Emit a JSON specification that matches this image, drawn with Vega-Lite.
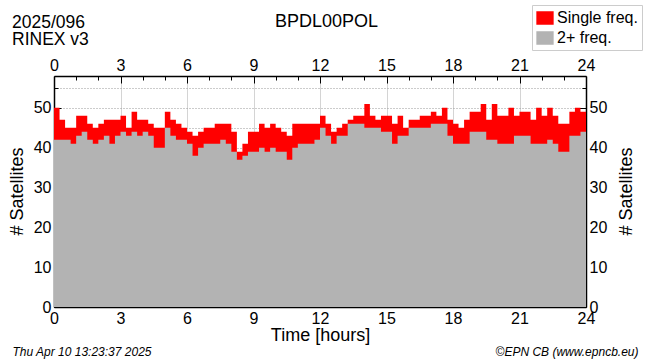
{
  "$schema": "https://vega.github.io/schema/vega-lite/v6.json",
  "width": 532,
  "height": 231,
  "autosize": "none",
  "padding": {"left": 54, "top": 76, "right": 64, "bottom": 55},
  "background": "white",
  "title": {
    "text": ["2025/096", "RINEX v3"],
    "anchor": "start",
    "frame": "group",
    "dx": -42,
    "dy": 48,
    "fontSize": 17.5,
    "fontWeight": "normal",
    "font": "Liberation Sans",
    "lineHeight": 17,
    "color": "black"
  },
  "config": {
    "view": {"stroke": null},
    "font": "Liberation Sans",
    "axis": {
      "domainColor": "black",
      "domainWidth": 1.5,
      "tickColor": "black",
      "labelFont": "Liberation Sans",
      "labelFontSize": 16,
      "labelColor": "black",
      "titleFont": "Liberation Sans",
      "titleFontSize": 18,
      "titleFontWeight": "normal",
      "titleColor": "black"
    }
  },
  "data": {
    "values": [
      {"h": 0.00, "total": 50, "dual": 42}, {"h": 0.25, "total": 47, "dual": 42}, {"h": 0.50, "total": 45, "dual": 42}, {"h": 0.75, "total": 45, "dual": 41},
      {"h": 1.00, "total": 48, "dual": 43}, {"h": 1.25, "total": 48, "dual": 44}, {"h": 1.50, "total": 46, "dual": 42}, {"h": 1.75, "total": 45, "dual": 41},
      {"h": 2.00, "total": 46, "dual": 42}, {"h": 2.25, "total": 47, "dual": 43}, {"h": 2.50, "total": 47, "dual": 41}, {"h": 2.75, "total": 47, "dual": 43},
      {"h": 3.00, "total": 48, "dual": 44}, {"h": 3.25, "total": 45, "dual": 43}, {"h": 3.50, "total": 49, "dual": 44}, {"h": 3.75, "total": 47, "dual": 43},
      {"h": 4.00, "total": 47, "dual": 44}, {"h": 4.25, "total": 46, "dual": 43}, {"h": 4.50, "total": 45, "dual": 40}, {"h": 4.75, "total": 45, "dual": 40},
      {"h": 5.00, "total": 49, "dual": 45}, {"h": 5.25, "total": 47, "dual": 43}, {"h": 5.50, "total": 46, "dual": 42}, {"h": 5.75, "total": 45, "dual": 42},
      {"h": 6.00, "total": 44, "dual": 41}, {"h": 6.25, "total": 43, "dual": 38}, {"h": 6.50, "total": 44, "dual": 40}, {"h": 6.75, "total": 45, "dual": 41},
      {"h": 7.00, "total": 45, "dual": 41}, {"h": 7.25, "total": 46, "dual": 41}, {"h": 7.50, "total": 46, "dual": 42}, {"h": 7.75, "total": 46, "dual": 41},
      {"h": 8.00, "total": 44, "dual": 39}, {"h": 8.25, "total": 39, "dual": 37}, {"h": 8.50, "total": 41, "dual": 38}, {"h": 8.75, "total": 44, "dual": 39},
      {"h": 9.00, "total": 44, "dual": 39}, {"h": 9.25, "total": 46, "dual": 40}, {"h": 9.50, "total": 45, "dual": 39}, {"h": 9.75, "total": 46, "dual": 40},
      {"h": 10.00, "total": 45, "dual": 39}, {"h": 10.25, "total": 44, "dual": 39}, {"h": 10.50, "total": 43, "dual": 37}, {"h": 10.75, "total": 46, "dual": 40},
      {"h": 11.00, "total": 46, "dual": 41}, {"h": 11.25, "total": 46, "dual": 41}, {"h": 11.50, "total": 46, "dual": 41}, {"h": 11.75, "total": 46, "dual": 42},
      {"h": 12.00, "total": 48, "dual": 45}, {"h": 12.25, "total": 46, "dual": 43}, {"h": 12.50, "total": 44, "dual": 41}, {"h": 12.75, "total": 45, "dual": 43},
      {"h": 13.00, "total": 46, "dual": 43}, {"h": 13.25, "total": 47, "dual": 46}, {"h": 13.50, "total": 48, "dual": 46}, {"h": 13.75, "total": 48, "dual": 46},
      {"h": 14.00, "total": 51, "dual": 45}, {"h": 14.25, "total": 48, "dual": 45}, {"h": 14.50, "total": 47, "dual": 45}, {"h": 14.75, "total": 48, "dual": 44},
      {"h": 15.00, "total": 48, "dual": 44}, {"h": 15.25, "total": 46, "dual": 41}, {"h": 15.50, "total": 48, "dual": 43}, {"h": 15.75, "total": 45, "dual": 43},
      {"h": 16.00, "total": 47, "dual": 45}, {"h": 16.25, "total": 47, "dual": 45}, {"h": 16.50, "total": 48, "dual": 45}, {"h": 16.75, "total": 48, "dual": 45},
      {"h": 17.00, "total": 49, "dual": 46}, {"h": 17.25, "total": 48, "dual": 46}, {"h": 17.50, "total": 50, "dual": 46}, {"h": 17.75, "total": 47, "dual": 43},
      {"h": 18.00, "total": 46, "dual": 41}, {"h": 18.25, "total": 45, "dual": 41}, {"h": 18.50, "total": 47, "dual": 41}, {"h": 18.75, "total": 49, "dual": 44},
      {"h": 19.00, "total": 49, "dual": 44}, {"h": 19.25, "total": 51, "dual": 44}, {"h": 19.50, "total": 47, "dual": 42}, {"h": 19.75, "total": 51, "dual": 42},
      {"h": 20.00, "total": 48, "dual": 41}, {"h": 20.25, "total": 48, "dual": 41}, {"h": 20.50, "total": 50, "dual": 41}, {"h": 20.75, "total": 48, "dual": 43},
      {"h": 21.00, "total": 49, "dual": 43}, {"h": 21.25, "total": 49, "dual": 43}, {"h": 21.50, "total": 47, "dual": 41}, {"h": 21.75, "total": 50, "dual": 41},
      {"h": 22.00, "total": 48, "dual": 41}, {"h": 22.25, "total": 50, "dual": 42}, {"h": 22.50, "total": 48, "dual": 41}, {"h": 22.75, "total": 46, "dual": 39},
      {"h": 23.00, "total": 46, "dual": 39}, {"h": 23.25, "total": 49, "dual": 43}, {"h": 23.50, "total": 50, "dual": 43}, {"h": 23.75, "total": 49, "dual": 44},
      {"h": 24.00, "total": 49, "dual": 44}
    ]
  },
  "layer": [
    {
      "mark": {"type": "area", "interpolate": "step-after"},
      "encoding": {
        "x": {
          "field": "h", "type": "quantitative",
          "scale": {"domain": [0, 24], "nice": false, "zero": false},
          "axis": {
            "orient": "bottom",
            "values": [0,1,2,3,4,5,6,7,8,9,10,11,12,13,14,15,16,17,18,19,20,21,22,23,24],
            "labelExpr": "datum.value % 3 === 0 ? datum.label : ''",
            "tickSize": {"condition": {"test": "datum.value % 3 === 0", "value": -7}, "value": -4},
            "labelPadding": 10,
            "labelFlush": false,
            "grid": true,
            "gridColor": "#d4d4d4",
            "gridOpacity": {"condition": {"test": "datum.value % 3 === 0", "value": 1}, "value": 0},
            "title": "Time [hours]",
            "titleY": 33,
            "titleBaseline": "alphabetic"
          }
        },
        "y": {
          "field": "total", "type": "quantitative",
          "scale": {"domain": [0, 58], "nice": false},
          "axis": {
            "orient": "left",
            "values": [0,5,10,15,20,25,30,35,40,45,50,55],
            "labelExpr": "datum.value % 10 === 0 ? datum.label : ''",
            "tickSize": {"condition": {"test": "datum.value % 10 === 0", "value": -7}, "value": -4},
            "labelPadding": 10,
            "labelFlush": false,
            "grid": true,
            "gridColor": "#999999",
            "gridDash": [1, 2],
            "title": "# Satellites",
            "titleX": -37,
            "titleY": 115,
            "titleAngle": 270,
            "titleAlign": "center",
            "titleBaseline": "middle"
          }
        },
        "fill": {
          "datum": "Single freq.",
          "type": "nominal",
          "scale": {"domain": ["Single freq.", "2+ freq."], "range": ["#ff0000", "#b3b3b3"]},
          "legend": {
            "orient": "none",
            "legendX": 478,
            "legendY": -71,
            "title": null,
            "strokeColor": "#cccccc",
            "fillColor": "white",
            "padding": 4,
            "cornerRadius": 0,
            "labelFont": "Liberation Sans",
            "labelFontSize": 16,
            "labelColor": "black",
            "symbolType": "M-1,-0.78H1V0.78H-1Z",
            "symbolSize": 300,
            "symbolStrokeWidth": 0,
            "rowPadding": 3,
            "labelOffset": 3
          }
        }
      }
    },
    {
      "mark": {"type": "area", "interpolate": "step-after"},
      "encoding": {
        "x": {
          "field": "h", "type": "quantitative",
          "axis": {
            "orient": "top",
            "values": [0,1,2,3,4,5,6,7,8,9,10,11,12,13,14,15,16,17,18,19,20,21,22,23,24],
            "labelExpr": "datum.value % 3 === 0 ? datum.label : ''",
            "tickSize": {"condition": {"test": "datum.value % 3 === 0", "value": -7}, "value": -4},
            "labelPadding": 10,
            "labelFlush": false,
            "grid": false,
            "title": "BPDL00POL",
            "titleX": 272,
            "titleY": -50,
            "titleAlign": "center",
            "titleBaseline": "alphabetic"
          }
        },
        "y": {
          "field": "dual", "type": "quantitative",
          "axis": {
            "orient": "right",
            "values": [0,5,10,15,20,25,30,35,40,45,50,55],
            "labelExpr": "datum.value % 10 === 0 ? datum.label : ''",
            "tickSize": {"condition": {"test": "datum.value % 10 === 0", "value": -7}, "value": -4},
            "labelPadding": 10,
            "labelFlush": false,
            "grid": false,
            "title": "# Satellites",
            "titleX": 40,
            "titleY": 115,
            "titleAngle": 270,
            "titleAlign": "center",
            "titleBaseline": "middle"
          }
        },
        "fill": {"datum": "2+ freq.", "type": "nominal"}
      }
    },
    {
      "mark": {"type": "point", "opacity": 0},
      "encoding": {
        "x": {
          "field": "h", "type": "quantitative",
          "axis": {
            "orient": "bottom",
            "domain": false, "ticks": false, "labels": false, "grid": false,
            "title": "Thu Apr 10 13:23:37 2025",
            "titleFontSize": 12,
            "titleFontStyle": "italic",
            "titleX": -42,
            "titleY": 48,
            "titleAlign": "left",
            "titleBaseline": "alphabetic"
          }
        }
      }
    },
    {
      "mark": {"type": "point", "opacity": 0},
      "encoding": {
        "x": {
          "field": "h", "type": "quantitative",
          "axis": {
            "orient": "bottom",
            "domain": false, "ticks": false, "labels": false, "grid": false,
            "title": "©EPN CB (www.epncb.eu)",
            "titleFontSize": 12,
            "titleFontStyle": "italic",
            "titleX": 584,
            "titleY": 48,
            "titleAlign": "right",
            "titleBaseline": "alphabetic"
          }
        }
      }
    }
  ],
  "resolve": {"axis": {"x": "independent", "y": "independent"}}
}
